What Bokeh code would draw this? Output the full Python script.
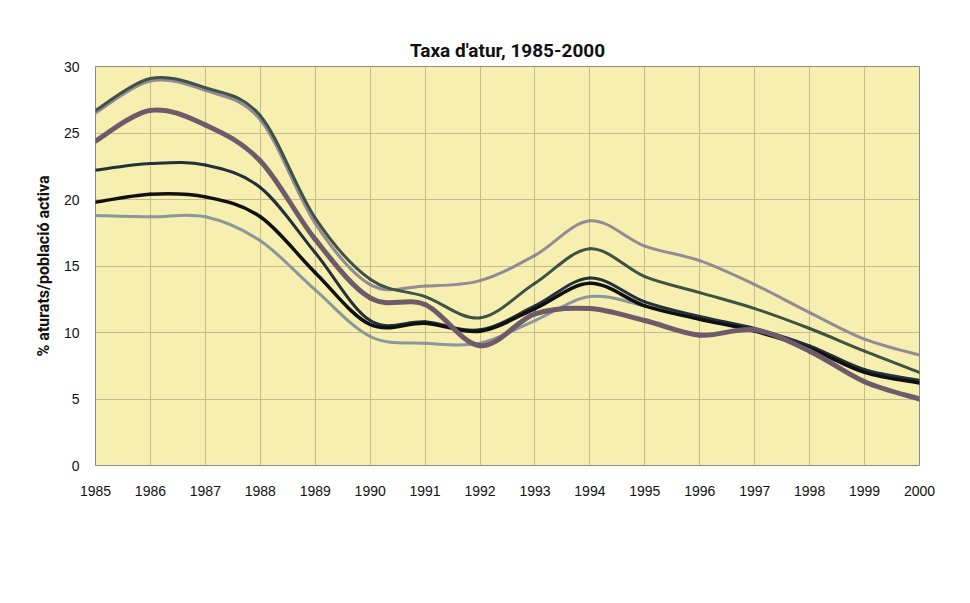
from bokeh.plotting import figure
from bokeh.models import Range1d, FixedTicker, Legend, LegendItem
from bokeh.core.properties import value
from bokeh.embed import file_html
from bokeh.resources import INLINE

years = list(range(1985, 2001))
badalona = [26.5, 28.9, 28.2, 26.0, 18.2, 13.6, 13.5, 13.9, 15.8, 18.4, 16.5, 15.4, 13.6, 11.5, 9.5, 8.3]
sabadell = [26.7, 29.1, 28.4, 26.3, 18.6, 14.0, 12.7, 11.1, 13.7, 16.3, 14.2, 13.0, 11.8, 10.3, 8.6, 7.0]
barcelona = [18.8, 18.7, 18.7, 16.9, 13.2, 9.7, 9.2, 9.2, 10.9, 12.7, 12.0, 11.0, 10.2, 8.9, 7.2, 6.4]
total_rmb = [22.2, 22.7, 22.6, 20.9, 16.0, 10.9, 10.8, 10.2, 12.0, 14.1, 12.3, 11.2, 10.3, 9.0, 7.2, 6.4]
total_cat = [19.8, 20.4, 20.2, 18.7, 14.5, 10.6, 10.7, 10.1, 11.8, 13.7, 12.0, 11.0, 10.1, 8.8, 7.0, 6.2]
hospitalet = [24.4, 26.7, 25.6, 22.9, 17.0, 12.6, 12.1, 9.0, 11.4, 11.8, 10.9, 9.8, 10.2, 8.6, 6.3, 5.0]

series = [
    ("Badalona", badalona, "#948a96", 3),
    ("Sabadell", sabadell, "#3e5246", 3),
    ("Barcelona", barcelona, "#8a979b", 3),
    ("TOTAL RMB", total_rmb, "#22303a", 3),
    ("TOTAL Catalunya", total_cat, "#101010", 3.5),
    ("L'Hospitalet", hospitalet, "#6f5a6a", 5),
]

NARROW = "Roboto"
REG = "Liberation Sans"

p = figure(frame_width=824, frame_height=399, output_backend="svg", toolbar_location=None,
           x_range=Range1d(1985, 2000), y_range=Range1d(0, 30),
           min_border_left=95, min_border_right=35, min_border_top=66, min_border_bottom=0,
           background_fill_color="#f6efb0", border_fill_color="white")

p.title.text = "Taxa d'atur, 1985-2000"
p.title.align = "center"
p.title.text_font = NARROW
p.title.text_font_size = "19px"
p.title.text_font_style = "bold"
p.title.text_color = "#111111"

p.outline_line_color = "#8a8a8a"
p.outline_line_width = 1
p.xgrid.grid_line_color = "#c9b98c"
p.ygrid.grid_line_color = "#c9b98c"
p.xaxis.ticker = FixedTicker(ticks=years)
p.yaxis.ticker = FixedTicker(ticks=[0, 5, 10, 15, 20, 25, 30])
for ax in (p.xaxis, p.yaxis):
    ax.axis_line_color = None
    ax.major_tick_line_color = None
    ax.minor_tick_line_color = None
    ax.major_label_text_font = REG
    ax.major_label_text_font_size = "14px"
    ax.major_label_text_color = "#111111"
p.xaxis.major_label_standoff = 14
p.yaxis.major_label_standoff = 10
p.yaxis.axis_label = "% aturats/població activa"
p.yaxis.axis_label_text_font = NARROW
p.yaxis.axis_label_text_font_size = "16px"
p.yaxis.axis_label_text_font_style = "bold"
p.yaxis.axis_label_text_color = "#111111"
p.yaxis.axis_label_standoff = 8

items = {}
for name, ys, color, w in series:
    n = len(years)
    x0, y0, x1, y1, cx0, cy0, cx1, cy1 = [], [], [], [], [], [], [], []
    for i in range(n - 1):
        ip = max(i - 1, 0)
        inx = min(i + 2, n - 1)
        x0.append(years[i]); y0.append(ys[i])
        x1.append(years[i + 1]); y1.append(ys[i + 1])
        cx0.append(years[i] + (years[i + 1] - years[ip]) / 6.0)
        cy0.append(ys[i] + (ys[i + 1] - ys[ip]) / 6.0)
        cx1.append(years[i + 1] - (years[inx] - years[i]) / 6.0)
        cy1.append(ys[i + 1] - (ys[inx] - ys[i]) / 6.0)
    r = p.bezier(x0=x0, y0=y0, x1=x1, y1=y1, cx0=cx0, cy0=cy0, cx1=cx1, cy1=cy1,
                 line_color=color, line_width=w, line_cap="round")
    items[name] = LegendItem(label=name, renderers=[r])

order = ["Badalona", "Sabadell", "Barcelona", "TOTAL RMB", "TOTAL Catalunya", "L'Hospitalet"]
legend = Legend(items=[items[k] for k in order], orientation="horizontal", nrows=2,
                location="center", label_text_font=NARROW, label_text_font_size="13px",
                label_text_color="#222222", glyph_width=48, glyph_height=20,
                label_height=20, label_width=150, label_standoff=12, spacing=6,
                padding=8, margin=12,
                border_line_color="#8a8a8a", border_line_width=1,
                background_fill_color="white", background_fill_alpha=1.0)
p.add_layout(legend, "below")

open("out.html", "w").write(file_html(p, INLINE))
